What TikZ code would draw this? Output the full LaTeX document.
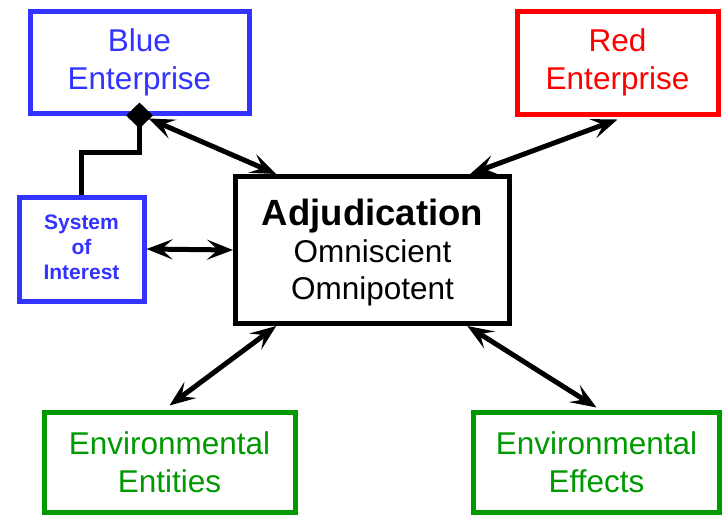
\documentclass[tikz,border=0pt]{standalone}
\usepackage{fontspec}
\setmainfont{Liberation Sans}
\usetikzlibrary{arrows.meta,shapes.geometric,calc}
\definecolor{bblue}{RGB}{51,51,255}
\definecolor{rred}{RGB}{255,0,0}
\definecolor{ggreen}{RGB}{0,153,0}
\tikzset{
  box/.style={draw, line width=5pt, inner sep=0pt, align=center, fill=white},
  bigtext/.style={font=\fontsize{31.5}{38}\selectfont},
  conn/.style={line width=5pt},
  tip/.style={},
  dbl/.style={conn, {Stealth[length=26pt,width=20pt,inset=11pt]}-{Stealth[length=26pt,width=20pt,inset=11pt]}},
}
\begin{document}
\begin{tikzpicture}[x=1pt,y=-1pt]
\useasboundingbox (0,0) rectangle (723,515);
\node[box, bigtext, draw=bblue, text=bblue, minimum width=219pt, minimum height=102pt] (blue) at (139.5,62) {Blue\\Enterprise};
\node[box, bigtext, draw=rred, text=rred, minimum width=201pt, minimum height=103pt] (red) at (617.5,62.5) {Red\\Enterprise};
\node[box, draw=bblue, minimum width=125pt, minimum height=104pt] (sys) at (81.5,249) {};
\node[align=center, text=bblue, font=\fontsize{21}{25}\selectfont\bfseries, inner sep=0pt] (systxt) at ([yshift=2pt]sys.center) {System\\of\\Interest};
\node[box, draw=black, minimum width=274pt, minimum height=147pt] (adj) at (372.5,250) {};
\node[align=center, text=black, font=\fontsize{31.5}{37}\selectfont, inner sep=0pt] (adjtxt) at ([yshift=-3pt]adj.center) {{\fontsize{36.5}{40}\selectfont\bfseries Adjudication}\\Omniscient\\Omnipotent};
\node[box, bigtext, draw=ggreen, text=ggreen, minimum width=251pt, minimum height=100pt] (ent) at (169.5,462) {Environmental\\Entities};
\node[box, bigtext, draw=ggreen, text=ggreen, minimum width=246pt, minimum height=100pt] (eff) at (596.5,462) {Environmental\\Effects};
\node[diamond, fill=black, inner sep=0pt, minimum width=27pt, minimum height=26pt] (dia) at (blue.south) {};
\draw[conn] (sys.north) -- ++(0,-42) -| (dia.center);
\draw[dbl] ([shift={(9,3)}]dia.center) -- ($(adj.north west)!0.155!(adj.north east)$);
\draw[dbl] ($(adj.north west)!0.85!(adj.north east)$) -- ([yshift=-3pt]red.south);
\draw[dbl] (sys.east) -- (adj.west);
\draw[dbl] ($(adj.south west)!0.155!(adj.south east)$) -- ([yshift=4pt]ent.north);
\draw[dbl] ($(adj.south west)!0.84!(adj.south east)$) -- ([yshift=2pt]eff.north);
\end{tikzpicture}
\end{document}
